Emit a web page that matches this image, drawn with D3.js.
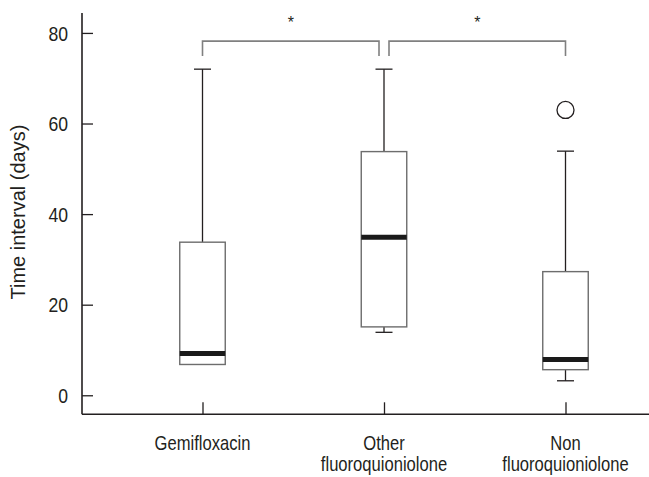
<!DOCTYPE html>
<html>
<head>
<meta charset="utf-8">
<script src="https://cdn.jsdelivr.net/npm/d3@7"></script>
<style>
  html, body { margin: 0; padding: 0; background: #fff; }
  svg { display: block; }
</style>
</head>
<body>
<svg id="chart" width="649" height="477"></svg>
<script>
// ---- data ----
const categories = ["Gemifloxacin", "Other\nfluoroquioniolone", "Non\nfluoroquioniolone"];
const whiskerLow  = [6.8, 13.9, 3.2];
const q1          = [6.8, 15.1, 5.65];
const median      = [9.2, 34.9, 7.9];
const q3          = [33.8, 53.8, 27.3];
const whiskerHigh = [72, 72, 53.9];
const outliers    = [[], [], [63]];
const yTicks      = [0, 20, 40, 60, 80];
const yLabel      = "Time interval (days)";
// significance brackets: [fromIndex, toIndex, label]
const brackets    = [[0, 1, "*"], [1, 2, "*"]];
const bracketLevel = 78.2, bracketDrop = 74.9;

// ---- layout ----
const svg = d3.select("#chart");
const axisX = 82, axisBottom = 414.3, axisTop = 13;
const y = d3.scaleLinear().domain([-4.2, 84.4]).range([axisBottom, axisTop]);
const x = d3.scalePoint().domain(categories).range([202.5, 565.5]);
const boxW = 45.5, capW = 17;
const font = "'Liberation Sans', Arial, sans-serif";
const squeeze = 0.83;
const dark = "#231f20", gray = "#808080";

// y axis
const yAxis = d3.axisRight(y).tickValues(yTicks).tickSize(11).tickFormat(d3.format("d"));
const gy = svg.append("g").attr("transform", `translate(${axisX},0)`).call(yAxis);
gy.select(".domain").remove();
gy.selectAll(".tick line").attr("stroke", dark).attr("stroke-width", 1.3);
gy.selectAll(".tick text").attr("x", -14 / 0.88).attr("text-anchor", "end").attr("dy", "0.36em")
  .attr("transform", "scale(0.88,1)")
  .attr("fill", dark).style("font-family", font).style("font-size", "20px");
svg.append("line").attr("x1", axisX).attr("x2", axisX).attr("y1", axisTop).attr("y2", axisBottom)
  .attr("stroke", dark).attr("stroke-width", 1.6);

// x axis
const xAxis = d3.axisTop(x).tickSize(12).tickFormat("");
const gx = svg.append("g").attr("transform", `translate(0,${axisBottom})`).call(xAxis);
gx.select(".domain").remove();
gx.selectAll(".tick line").attr("stroke", dark).attr("stroke-width", 1.3);
svg.append("line").attr("x1", axisX).attr("x2", 649).attr("y1", axisBottom).attr("y2", axisBottom)
  .attr("stroke", dark).attr("stroke-width", 1.6);

// category labels
const labels = svg.append("g");
categories.forEach(c => {
  const t = labels.append("text")
    .attr("transform", `translate(${x(c)},450) scale(${squeeze},1)`)
    .attr("text-anchor", "middle")
    .attr("fill", dark).style("font-family", font).style("font-size", "20px");
  c.split("\n").forEach((line, i) => {
    t.append("tspan").attr("x", 0).attr("dy", i === 0 ? 0 : 21).text(line);
  });
});

// y label
svg.append("text").attr("transform", `translate(25,${y(40) - 2}) rotate(-90)`)
  .attr("text-anchor", "middle").attr("fill", dark)
  .style("font-family", font).style("font-size", "20px").text(yLabel);

// boxes
const g = svg.append("g");
categories.forEach((c, i) => {
  const cx = x(c);
  if (whiskerHigh[i] > q3[i]) {
    g.append("line").attr("x1", cx).attr("x2", cx).attr("y1", y(q3[i])).attr("y2", y(whiskerHigh[i]))
      .attr("stroke", dark).attr("stroke-width", 1.3);
    g.append("line").attr("x1", cx - capW / 2).attr("x2", cx + capW / 2)
      .attr("y1", y(whiskerHigh[i])).attr("y2", y(whiskerHigh[i])).attr("stroke", dark).attr("stroke-width", 1.3);
  }
  if (whiskerLow[i] < q1[i]) {
    g.append("line").attr("x1", cx).attr("x2", cx).attr("y1", y(q1[i])).attr("y2", y(whiskerLow[i]))
      .attr("stroke", dark).attr("stroke-width", 1.3);
    g.append("line").attr("x1", cx - capW / 2).attr("x2", cx + capW / 2)
      .attr("y1", y(whiskerLow[i])).attr("y2", y(whiskerLow[i])).attr("stroke", dark).attr("stroke-width", 1.3);
  }
  g.append("rect").attr("x", cx - boxW / 2).attr("width", boxW)
    .attr("y", y(q3[i])).attr("height", y(q1[i]) - y(q3[i]))
    .attr("fill", "#fff").attr("stroke", "#6d6d6d").attr("stroke-width", 1.4);
  g.append("line").attr("x1", cx - boxW / 2).attr("x2", cx + boxW / 2)
    .attr("y1", y(median[i])).attr("y2", y(median[i]))
    .attr("stroke", "#1a1a1a").attr("stroke-width", 5);
  outliers[i].forEach(o => {
    g.append("circle").attr("cx", cx).attr("cy", y(o)).attr("r", 8.5)
      .attr("fill", "none").attr("stroke", dark).attr("stroke-width", 1.3);
  });
});

// brackets
const bg = svg.append("g");
brackets.forEach(([a, b, lab], k) => {
  const xa = x(categories[a]) + (k > 0 ? 5 : 0);
  const xb = x(categories[b]) - (k === 0 ? 5 : 0);
  bg.append("path")
    .attr("d", `M${xa},${y(bracketDrop)}V${y(bracketLevel)}H${xb}V${y(bracketDrop)}`)
    .attr("fill", "none").attr("stroke", gray).attr("stroke-width", 1.6);
  bg.append("text").attr("x", (xa + xb) / 2).attr("y", 28).attr("text-anchor", "middle")
    .attr("fill", dark).style("font-family", font).style("font-size", "16px").text(lab);
});
</script>
</body>
</html>
